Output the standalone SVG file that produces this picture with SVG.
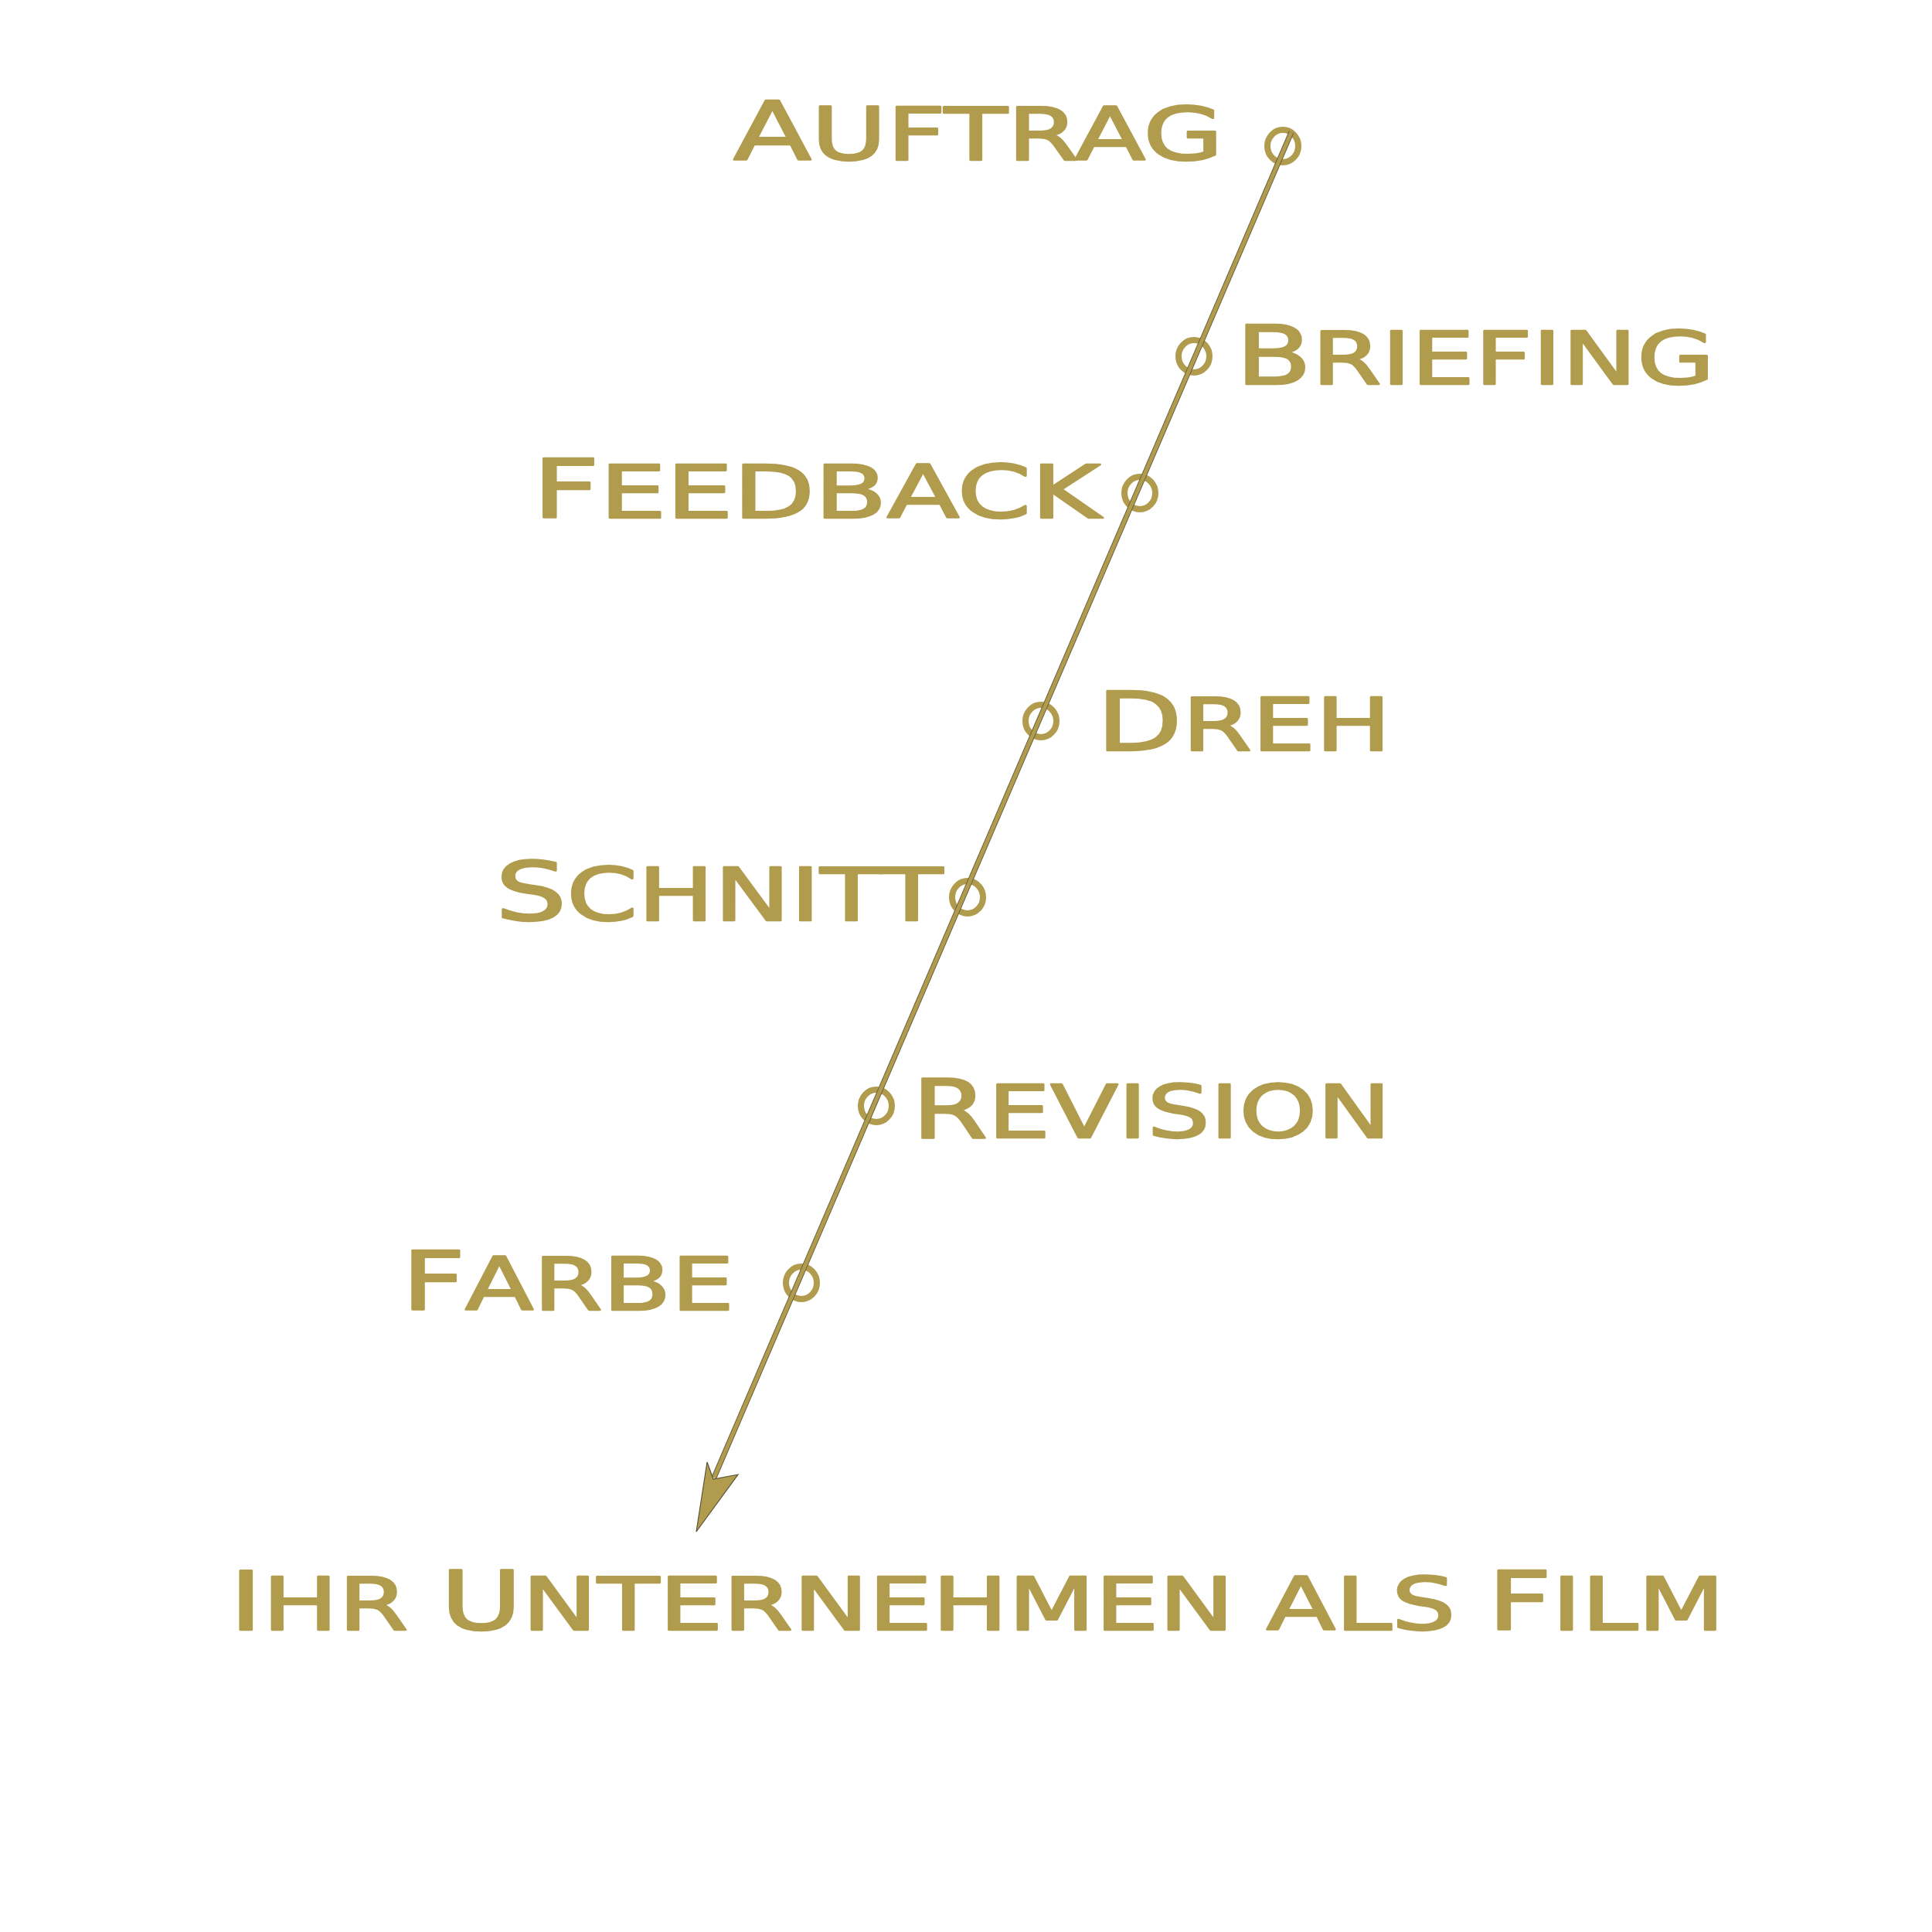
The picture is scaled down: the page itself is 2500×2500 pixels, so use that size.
<svg xmlns="http://www.w3.org/2000/svg" width="2500" height="2500" viewBox="0 0 2500 2500">
<style>
.t{font-family:"DejaVu Sans","Liberation Sans",sans-serif;font-size:95px;fill:#B19B4D;stroke:#B19B4D;stroke-width:2.5;stroke-linejoin:round;text-transform:uppercase}
.big{font-size:105px}
.dot{fill:none;stroke:#B19B4D;stroke-width:8}
</style>
<rect width="2500" height="2500" fill="#ffffff"/>
<g id="auftrag"><text class="t" x="949" y="207" textLength="634" lengthAdjust="spacingAndGlyphs"><tspan class="big">A</tspan>uftrag</text><ellipse class="dot" cx="1660" cy="189" rx="20" ry="21"/></g>
<g id="briefing"><text class="t" x="1599" y="497" textLength="620" lengthAdjust="spacingAndGlyphs"><tspan class="big">B</tspan>riefing</text><ellipse class="dot" cx="1545" cy="461" rx="20" ry="21"/></g>
<g id="feedback"><text class="t" x="689" y="670" textLength="735" lengthAdjust="spacingAndGlyphs"><tspan class="big">F</tspan>eedback</text><ellipse class="dot" cx="1475" cy="638" rx="20" ry="21"/></g>
<g id="dreh"><text class="t" x="1419" y="971" textLength="381" lengthAdjust="spacingAndGlyphs"><tspan class="big">D</tspan>reh</text><ellipse class="dot" cx="1347" cy="933" rx="20" ry="21"/></g>
<g id="schnitt"><text class="t" x="641" y="1191" textLength="579" lengthAdjust="spacingAndGlyphs"><tspan class="big">S</tspan>chnitt</text><ellipse class="dot" cx="1252" cy="1161" rx="20" ry="21"/></g>
<g id="revision"><text class="t" x="1180" y="1472" textLength="620" lengthAdjust="spacingAndGlyphs"><tspan class="big">R</tspan>evision</text><ellipse class="dot" cx="1134" cy="1431" rx="20" ry="21"/></g>
<g id="farbe"><text class="t" x="520" y="1695" textLength="430" lengthAdjust="spacingAndGlyphs"><tspan class="big">F</tspan>arbe</text><ellipse class="dot" cx="1037" cy="1660" rx="20" ry="21"/></g>
<g id="ziel"><text class="t" x="297" y="2109" textLength="1935" lengthAdjust="spacingAndGlyphs"><tspan class="big">I</tspan>hr <tspan class="big">U</tspan>nternehmen als <tspan class="big">F</tspan>ilm</text></g>
<g id="connectors">
<line x1="1671" y1="171" x2="924" y2="1912" stroke="#6b6040" stroke-width="7"/>
<line x1="1671" y1="171" x2="924" y2="1912" stroke="#B19B4D" stroke-width="5"/>
<polygon points="901,1982 915,1892 923,1914 955,1908" fill="#B19B4D" stroke="#5a5238" stroke-width="1.2" stroke-linejoin="miter"/>
</g>
</svg>
